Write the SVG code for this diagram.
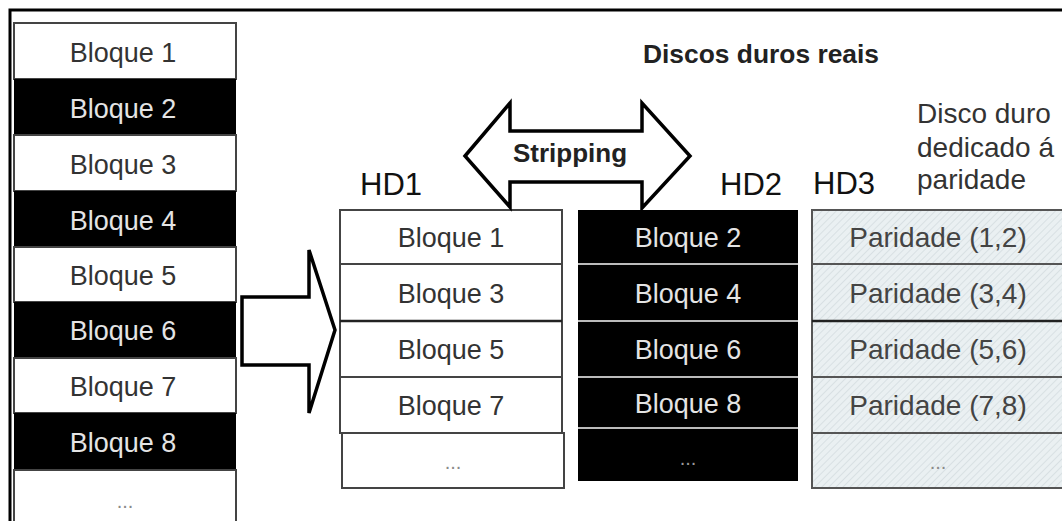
<svg xmlns="http://www.w3.org/2000/svg" width="1062" height="521" viewBox="0 0 1062 521">
<style>
  text { font-family: "Liberation Sans", Arial, sans-serif; }
  .lbl { font-size: 27px; text-anchor: middle; }
  .dark { fill: #333; }
  .light { fill: #e4e4e4; }
  .par { font-size: 28px; text-anchor: middle; fill: #444; }
  .dots { font-size: 20px; text-anchor: middle; fill: #8a8a8a; }
  .wcell { fill: #fff; stroke: #444; stroke-width: 2; }
  .bcell { fill: #000; }
  .pcell { fill: url(#hatch); stroke: #555; stroke-width: 2; }
  .hd { font-size: 31px; fill: #111; }
  .arrow { fill: #fff; stroke: #000; stroke-width: 3.5; stroke-linejoin: miter; }
</style>
<defs>
  <pattern id="hatch" patternUnits="userSpaceOnUse" width="5" height="5" patternTransform="rotate(45)">
    <rect width="5" height="5" fill="#eaf0f2"/>
    <line x1="0" y1="0" x2="0" y2="5" stroke="#ccd6da" stroke-width="1.2"/>
  </pattern>
</defs>
<rect width="1062" height="521" fill="#fff"/>
<!-- outer frame -->
<path d="M10 521 V10 H1062" fill="none" stroke="#000" stroke-width="3"/>

<g id="logical-disk">
  <rect class="wcell" x="14" y="23" width="222" height="56"/>
  <text class="lbl dark" x="123" y="62">Bloque 1</text>
  <rect class="bcell" x="14" y="79" width="222" height="56"/>
  <text class="lbl light" x="123" y="118">Bloque 2</text>
  <rect class="wcell" x="14" y="135" width="222" height="56"/>
  <text class="lbl dark" x="123" y="174">Bloque 3</text>
  <rect class="bcell" x="14" y="191" width="222" height="56"/>
  <text class="lbl light" x="123" y="230">Bloque 4</text>
  <rect class="wcell" x="14" y="247" width="222" height="55"/>
  <text class="lbl dark" x="123" y="285">Bloque 5</text>
  <rect class="bcell" x="14" y="302" width="222" height="56"/>
  <text class="lbl light" x="123" y="340">Bloque 6</text>
  <rect class="wcell" x="14" y="358" width="222" height="55"/>
  <text class="lbl dark" x="123" y="396">Bloque 7</text>
  <rect class="bcell" x="14" y="413" width="222" height="57"/>
  <text class="lbl light" x="123" y="452">Bloque 8</text>
  <rect class="wcell" x="14" y="470" width="222" height="60"/>
  <text class="dots" x="125" y="508">...</text>
</g>

<g id="title">
  <text x="643" y="63" textLength="236" lengthAdjust="spacingAndGlyphs" style="font-size:25px;font-weight:bold;fill:#222">Discos duros reais</text>
</g>

<g id="hd1">
  <text class="hd" x="360" y="195">HD1</text>
  <rect class="wcell" x="340" y="210" width="222" height="54"/>
  <text class="lbl dark" x="451" y="247">Bloque 1</text>
  <rect class="wcell" x="340" y="264" width="222" height="57"/>
  <text class="lbl dark" x="451" y="303">Bloque 3</text>
  <rect class="wcell" x="340" y="321" width="222" height="56"/>
  <text class="lbl dark" x="451" y="359">Bloque 5</text>
  <rect class="wcell" x="340" y="377" width="222" height="56"/>
  <text class="lbl dark" x="451" y="415">Bloque 7</text>
  <rect class="wcell" x="342" y="433" width="222" height="55"/>
  <text class="dots" x="453" y="469">...</text>
  <line x1="340" y1="321" x2="562" y2="321" stroke="#222" stroke-width="2.5"/>
</g>

<g id="hd2">
  <text class="hd" x="720" y="195">HD2</text>
  <rect x="578" y="210" width="220" height="271" fill="#000"/>
  <g stroke="#bbb" stroke-width="2">
    <line x1="578" y1="264" x2="798" y2="264"/>
    <line x1="578" y1="321" x2="798" y2="321"/>
    <line x1="578" y1="377" x2="798" y2="377"/>
    <line x1="578" y1="428" x2="798" y2="428"/>
  </g>
  <text class="lbl light" x="688" y="247">Bloque 2</text>
  <text class="lbl light" x="688" y="303">Bloque 4</text>
  <text class="lbl light" x="688" y="359">Bloque 6</text>
  <text class="lbl light" x="688" y="413">Bloque 8</text>
  <text class="dots" x="688" y="465" style="fill:#999">...</text>
</g>

<g id="hd3">
  <text class="hd" x="813" y="194">HD3</text>
  <text x="917" y="123" style="font-size:28px;fill:#333">Disco duro</text>
  <text x="917" y="157" style="font-size:28px;fill:#333">dedicado á</text>
  <text x="917" y="189" style="font-size:28px;fill:#333">paridade</text>
  <rect class="pcell" x="812" y="210" width="260" height="54"/>
  <text class="par" x="938" y="247">Paridade (1,2)</text>
  <rect class="pcell" x="812" y="264" width="260" height="57"/>
  <text class="par" x="938" y="303">Paridade (3,4)</text>
  <rect class="pcell" x="812" y="321" width="260" height="56"/>
  <text class="par" x="938" y="359">Paridade (5,6)</text>
  <rect class="pcell" x="812" y="377" width="260" height="56"/>
  <text class="par" x="938" y="415">Paridade (7,8)</text>
  <rect class="pcell" x="812" y="433" width="260" height="55"/>
  <text class="dots" x="938" y="469">...</text>
  <line x1="812" y1="321" x2="1062" y2="321" stroke="#222" stroke-width="2.5"/>
</g>

<g id="connectors">
  <polygon class="arrow" points="242,297 309,297 309,250 335,330 309,413 309,365 242,365"/>
  <polygon class="arrow" points="465,156 510,103 510,131 642,131 642,103 690,156 642,208 642,182 510,182 510,207"/>
  <text x="570" y="162" style="font-size:26px;font-weight:bold;fill:#222;text-anchor:middle">Stripping</text>
</g>
</svg>
